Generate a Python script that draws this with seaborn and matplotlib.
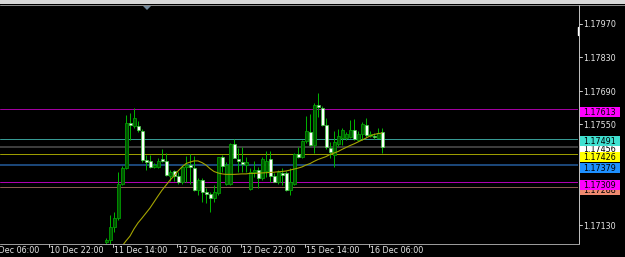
import matplotlib
matplotlib.use("Agg")
import matplotlib.pyplot as plt
import matplotlib.transforms as mtransforms
from matplotlib.patches import Rectangle, Polygon
from matplotlib.lines import Line2D
import pandas as pd
import seaborn as sns

# ---------------- data (EURUSD-like H1 candles) ----------------
bar_index = list(range(26, 96))

opens = [1.17060, 1.17068, 1.17124, 1.17159, 1.17304, 1.17367, 1.17557, 1.17543, 1.17543, 1.17524,
         1.17402, 1.17399, 1.17374, 1.17374, 1.17404, 1.17398, 1.17337, 1.17354, 1.17336, 1.17311,
         1.17374, 1.17381, 1.17370, 1.17276, 1.17318, 1.17267, 1.17259, 1.17242, 1.17263, 1.17413,
         1.17300, 1.17300, 1.17467, 1.17406, 1.17395, 1.17381, 1.17281, 1.17353, 1.17360, 1.17325,
         1.17356, 1.17406, 1.17336, 1.17311, 1.17346, 1.17346, 1.17276, 1.17300, 1.17426, 1.17416,
         1.17481, 1.17520, 1.17464, 1.17631, 1.17618, 1.17548, 1.17451, 1.17423, 1.17469, 1.17492,
         1.17492, 1.17499, 1.17527, 1.17485, 1.17509, 1.17548, 1.17503, 1.17503, 1.17495, 1.17517]

highs = [1.17076, 1.17172, 1.17186, 1.17353, 1.17377, 1.17589, 1.17596, 1.17617, 1.17564, 1.17531,
         1.17423, 1.17423, 1.17389, 1.17410, 1.17448, 1.17431, 1.17360, 1.17360, 1.17350, 1.17381,
         1.17420, 1.17426, 1.17420, 1.17325, 1.17325, 1.17284, 1.17269, 1.17297, 1.17416, 1.17423,
         1.17395, 1.17471, 1.17489, 1.17451, 1.17457, 1.17416, 1.17367, 1.17398, 1.17374, 1.17416,
         1.17439, 1.17439, 1.17346, 1.17360, 1.17370, 1.17356, 1.17367, 1.17430, 1.17457, 1.17485,
         1.17586, 1.17592, 1.17641, 1.17681, 1.17627, 1.17577, 1.17478, 1.17523, 1.17531, 1.17534,
         1.17518, 1.17568, 1.17573, 1.17523, 1.17561, 1.17576, 1.17523, 1.17514, 1.17534, 1.17536]

lows = [1.17043, 1.17051, 1.17103, 1.17151, 1.17297, 1.17364, 1.17485, 1.17534, 1.17520, 1.17395,
        1.17360, 1.17367, 1.17368, 1.17368, 1.17393, 1.17335, 1.17314, 1.17314, 1.17304, 1.17304,
        1.17311, 1.17304, 1.17272, 1.17256, 1.17228, 1.17221, 1.17186, 1.17228, 1.17256, 1.17353,
        1.17297, 1.17297, 1.17409, 1.17353, 1.17353, 1.17353, 1.17276, 1.17332, 1.17284, 1.17318,
        1.17332, 1.17311, 1.17309, 1.17304, 1.17297, 1.17272, 1.17256, 1.17297, 1.17409, 1.17409,
        1.17471, 1.17461, 1.17431, 1.17581, 1.17543, 1.17448, 1.17409, 1.17374, 1.17460, 1.17464,
        1.17485, 1.17492, 1.17485, 1.17481, 1.17485, 1.17499, 1.17498, 1.17489, 1.17492, 1.17430]

closes = [1.17068, 1.17124, 1.17160, 1.17304, 1.17367, 1.17555, 1.17548, 1.17577, 1.17527, 1.17402,
          1.17393, 1.17374, 1.17381, 1.17399, 1.17399, 1.17339, 1.17353, 1.17335, 1.17311, 1.17374,
          1.17381, 1.17374, 1.17276, 1.17318, 1.17269, 1.17261, 1.17242, 1.17267, 1.17413, 1.17377,
          1.17381, 1.17467, 1.17411, 1.17398, 1.17384, 1.17392, 1.17350, 1.17360, 1.17325, 1.17406,
          1.17398, 1.17336, 1.17311, 1.17350, 1.17339, 1.17276, 1.17311, 1.17426, 1.17416, 1.17481,
          1.17523, 1.17464, 1.17631, 1.17623, 1.17548, 1.17456, 1.17436, 1.17478, 1.17502, 1.17527,
          1.17509, 1.17527, 1.17489, 1.17509, 1.17550, 1.17506, 1.17509, 1.17496, 1.17516, 1.17457]

ma_index = list(range(30, 96))
ma_values = [1.17043, 1.17065, 1.17085, 1.17115, 1.17140, 1.17160, 1.17181, 1.17202, 1.17227, 1.17252,
             1.17276, 1.17297, 1.17318, 1.17335, 1.17356, 1.17373, 1.17387, 1.17393, 1.17398, 1.17398,
             1.17391, 1.17381, 1.17366, 1.17354, 1.17348, 1.17344, 1.17342, 1.17342, 1.17342, 1.17343,
             1.17344, 1.17344, 1.17346, 1.17346, 1.17347, 1.17348, 1.17349, 1.17350, 1.17351, 1.17353,
             1.17354, 1.17356, 1.17360, 1.17364, 1.17368, 1.17373, 1.17381, 1.17387, 1.17396, 1.17404,
             1.17410, 1.17416, 1.17425, 1.17431, 1.17437, 1.17446, 1.17454, 1.17462, 1.17469, 1.17477,
             1.17485, 1.17493, 1.17502, 1.17508, 1.17512, 1.17514]

level_prices = [1.17613, 1.17491, 1.17456, 1.17426, 1.17379, 1.17309, 1.17288]
level_labels = ["1.17613", "1.17491", "1.17456", "1.17426", "1.17379", "1.17309", "1.17288"]

price_ticks = [1.17970, 1.17830, 1.17690, 1.17550, 1.17130]
price_tick_labels = ["1.17970", "1.17830", "1.17690", "1.17550", "1.17130"]

time_tick_bars = [-4, 12, 28, 44, 60, 76, 92]
time_tick_labels = ["10 Dec 06:00", "10 Dec 22:00", "11 Dec 14:00", "12 Dec 06:00",
                    "12 Dec 22:00", "15 Dec 14:00", "16 Dec 06:00"]

# ---------------- styling ----------------
sns.set_theme(style="dark", rc={"axes.facecolor": "black", "figure.facecolor": "black"})
plt.rcParams["font.family"] = ["DejaVu Sans"]

W, H = 625, 257
fig = plt.figure(figsize=(W / 100, H / 100), dpi=100)
fig.patch.set_facecolor("black")

top_px, bot_px, right_px = 5, 244, 578
ax = fig.add_axes([0, 1 - bot_px / H, right_px / W, (bot_px - top_px) / H])
ax.set_facecolor("black")
y_top, y_bot = 1.180473, 1.170521
pp = (y_top - y_bot) / (bot_px - top_px)  # price per pixel
PX = 0.72  # one pixel in points


def fx(x):
    return x / W


def fy(y):
    return 1 - y / H


# horizontal levels (behind candles)
line_styles = [("#a000a0", 1), ("#379a94", 1), ("#3c3c3c", 2), ("#9c9c00", 1),
               ("#1b4677", 2), ("#b000b0", 1), ("#8a5c50", 1)]
for p, (c, w) in zip(level_prices, line_styles):
    ax.axhline(p, color=c, lw=w * PX, zorder=2)

# candles
df = pd.DataFrame({"bar": bar_index, "open": opens, "high": highs, "low": lows, "close": closes})
up = df["close"] >= df["open"]
ax.vlines(df["bar"], df["low"], df["high"], color="#00b000", lw=PX, zorder=3)
ax.bar(df["bar"][up], (df["close"] - df["open"])[up].clip(lower=pp), bottom=df["open"][up],
       width=0.75, color="#005400", edgecolor="#009c00", lw=0.6, zorder=4)
ax.bar(df["bar"][~up], (df["open"] - df["close"])[~up].clip(lower=pp), bottom=df["close"][~up],
       width=0.75, color="#ffffff", edgecolor="#40d040", lw=0.5, zorder=4)

# moving average
sns.lineplot(x=ma_index, y=ma_values, ax=ax, color="#a6a600", lw=PX * 1.1, zorder=5)
ax.set_xlim(-0.5, 144)
ax.set_ylim(y_bot, y_top)
ax.set_xticks([])
ax.set_yticks([])
ax.set_xlabel("")
ax.set_ylabel("")
for s in ax.spines.values():
    s.set_visible(False)
ax.grid(False)

# ---------------- window decorations ----------------
fig.add_artist(Rectangle((0, fy(4)), 1, 4 / H, transform=fig.transFigure,
                         facecolor="#d8d8d8", edgecolor="none"))
fig.add_artist(Line2D([0, 1], [fy(4.5), fy(4.5)], transform=fig.transFigure, color="#8a8a8a", lw=PX))
fig.add_artist(Polygon([(fx(142), fy(5)), (fx(152), fy(5)), (fx(147), fy(10))],
                       closed=True, transform=fig.transFigure, facecolor="#71879a", edgecolor="none"))
fig.add_artist(Line2D([fx(578.5), fx(578.5)], [fy(4.5), fy(bot_px)], transform=fig.transFigure,
                      color="#bdbdbd", lw=PX))
fig.add_artist(Line2D([0, fx(578.5)], [fy(bot_px), fy(bot_px)], transform=fig.transFigure,
                      color="#9a9a9a", lw=PX))
fig.add_artist(Line2D([fx(577.5), fx(577.5)], [fy(27), fy(35)], transform=fig.transFigure,
                      color="#ffffff", lw=1.4 * PX))

trans_y = mtransforms.blended_transform_factory(fig.transFigure, ax.transData)
trans_x = mtransforms.blended_transform_factory(ax.transData, fig.transFigure)

# price scale
for p, lab in zip(price_ticks, price_tick_labels):
    fig.add_artist(Line2D([fx(579), fx(582)], [p, p], transform=trans_y, color="#c8c8c8", lw=PX))
    fig.text(fx(583.5), p - 1.2 * pp, lab, transform=trans_y, ha="left", va="center",
             color="#e6e6e6", fontsize=5.8, zorder=5)

# level price labels, drawn in stacking order (later ones cover earlier ones)
box_colors = {"1.17456": "#ffffff", "1.17288": "#f08a70", "1.17613": "#ff00ff",
              "1.17491": "#40e0d0", "1.17426": "#ffff00", "1.17379": "#1e90ff", "1.17309": "#ff00ff"}
order = ["1.17456", "1.17288", "1.17613", "1.17491", "1.17426", "1.17379", "1.17309"]
z = 10
for lab in order:
    p = level_prices[level_labels.index(lab)]
    fig.add_artist(Rectangle((fx(579.5), p - 7.8 * pp), 40 / W, 10 * pp, transform=trans_y,
                             facecolor=box_colors[lab], edgecolor="none", zorder=z))
    fig.text(fx(583.5), p - 2.8 * pp, lab, transform=trans_y, ha="left", va="center",
             color="#000000", fontsize=5.8, zorder=z + 1)
    z += 2

# time scale
for b, lab in zip(time_tick_bars, time_tick_labels):
    fig.add_artist(Line2D([b - 0.35, b - 0.35], [fy(bot_px), fy(bot_px + 3)], transform=trans_x,
                          color="#bdbdbd", lw=PX))
    fig.text(b - 0.1, fy(250.5), lab, transform=trans_x, ha="left", va="center",
             color="#e6e6e6", fontsize=5.8)

fig.savefig("out.png", dpi=100, facecolor="black")
